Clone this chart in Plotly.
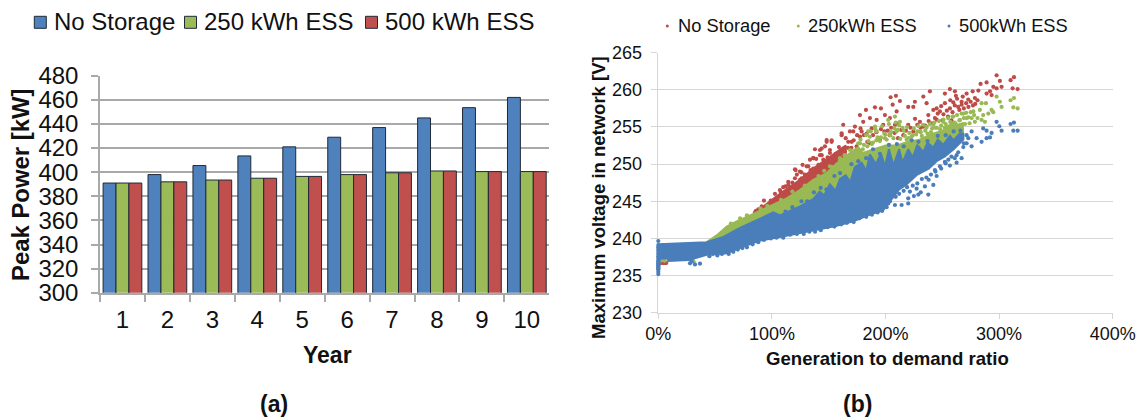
import plotly.graph_objects as go

W, H = 1147, 418
FONT = "Liberation Sans, Arial, sans-serif"

years = ["1", "2", "3", "4", "5", "6", "7", "8", "9", "10"]
peak_none = [391, 398, 405.5, 413.5, 421, 429, 437, 445, 453.5, 462]
peak_250 = [391, 392, 393.5, 395, 396.5, 398, 399.5, 401, 400.5, 400.5]
peak_500 = [391, 392, 393.5, 395, 396.5, 398, 399.5, 401, 400.5, 400.5]

red_x = [297.8,313.1,310.1,300.7,302.2,297.8,311.9,316.3,283.7,289,294.9,292,293.4,289,276.7,281.7,271.4,256.7,261.1,252.3,239.1,233.3,209.2,204.5,212.7,190.7,196,182.8,206.3,225.9,220,224.5,236.2,245,252.3,259.7,267,272.9,278.7,264,256.7,247.9,242.1,177.5,186.3,192.2,199.5,203.9,209.8,173.1,180.4,162.8,171.6,161.4,148.2,152.6,146.7,151.1,142.3,143.8,154,162.8,167.2,179,187.8,198,208.3,220,230.3,237.7,243.5,215.7,224.5,233.3,186.3,195.1,203.9,157,151.1,146.7,168.7,174.6,164.3,148.2,152.6,161.4,168.7,137.9,143.8,142.3,133.5,136.4,151.1,145.2,127,132,120.9,124.7,136.4,114.4,120.3,110,107.1,115.9,124.7,130.6,139.4,145.2,154,158.4,110,117.4,170.2,177.5,183.4,195.1,203.9,209.8,85.1,88.1,93,96.9,102.7,107.1,114.5,120.3,126.2,130.6,136.5,113,121.8,101.3,130.6,2,3.5,5,6,7,
         246,249,251,254,257,259,261,263,265,267,269,271,273,275,277,279,281,262,268,255,250,258,245,241,238,235,231,228,226,222,218,214,211,208,205,202,199,196,192,189,184,181,178,175,172,170,167,165,159,156,149,147,141,139,134,129,126,122,118,112,108,104,99,91,88,86]
red_v = [261.96,261.7,261.3,261.2,260.4,260.2,260.2,260.1,260.8,261,260.4,259.8,259.3,259.5,259.8,259.9,259.5,260.1,259.8,259.5,259.8,259.1,259.2,259,258.5,257.65,257.5,257.3,258,258.4,257.7,257.7,258.2,257.5,258.2,258.3,258.4,258.7,258.9,257.7,257.5,257.1,257.3,256.6,256.2,255.95,256.6,256.2,257.1,255.05,255.7,255.3,254.4,253.9,253.25,253,252.4,251.9,251.9,251.2,251,252.1,253,254.4,254.8,255.3,255.3,255.3,255.7,256.6,256.2,253.9,254.4,255.05,252.8,253.25,253.9,250.3,249.7,248.8,251,252.4,251.7,253,253.2,254.15,254.4,252,252.1,251.2,250.6,250.8,251.5,250.6,249.9,249.7,249.2,249,249.4,247.6,248.1,246.9,246.5,246.7,247.9,248.5,248.5,249.4,250.1,250.6,245.2,246.1,253,253.7,254.1,253.5,253.9,255.5,243.5,243.6,245.1,244.5,246,244.7,247.2,249.3,248.1,249.7,250.8,245.9,247,244.3,247.4,236.7,236.7,236.7,236.7,236.7,
         256.8,257.8,256.7,257.2,258.6,257,257.9,258.8,257.3,258,257.5,258.2,257.7,258.4,257.9,258.1,258.6,259.2,259.1,256.4,255.9,255.9,256,255.5,255.8,255.2,254.9,255.3,256.1,254.9,254.5,254.6,253.5,254.2,254.9,254.5,254.4,254.7,254.3,253.9,253,253.9,254.8,253.9,253.2,252.2,252.2,253.5,252.3,251.4,250.9,250.2,249.9,250.7,249.2,248.6,248.9,248.6,247.5,247,246.2,245.4,245.1,244.3,243.9,243.7]
red_band_x = [84,107,124.7,136.4,151.1,165,165,130,100]
red_band_v = [243.3,246,247.9,249.4,251,252.5,250,246.5,244]

green_x = [297.8,300.7,302.2,313.1,310.1,312.5,316.3,293.4,294.9,290.5,286,288.4,284.6,283.1,277.3,275.8,284.6,287.5,278.7,271.4,268.5,265.5,259.7,258.2,250.9,242.1,236.2,230.3,218.6,209.8,199.5,192.2,186.3,177.5,168.7,159.9,151.1,212.7,202.4,190.7,184.8,208.3,196.6,201,215.7,180.4,174.6,155.5,149.6,236.2,245,224.5,2,4,5.5,29.4,31,
           64,72,78,90,96,108,118,129,141,146,153,160,164,
           176,178,181,183,185,187,189,191,193,195,197,199,201,203,205,207,209,211,213,215,217,219,221,223,225,227,229,231,233,235,237,239,241,243,245,247,249,251,253,255,257,259,261,263,265,267,269,271,273,275,278,281,274,270,266,262,258,254,180,184,188,192,196,200,204,208,212,216,220,224,228,232,236,240,244,248,252,256,260]
green_v = [259.1,258.4,257.7,258.9,258.6,257.65,257.5,257.3,257,256.8,256.6,258.2,258.2,257.3,257.1,256.2,255.95,255.7,255.7,256.2,256.8,255.95,256.4,255.5,255.7,255.3,255.05,254.4,253.3,254.4,253.5,254.4,253.7,252.8,251.9,250.8,249.7,255.7,255.95,255.05,254.4,256.4,250.6,250.1,251.2,250.1,249.4,247.4,246.7,253,253.9,252.1,237,237.1,237,237,236.9,
           242,242.7,243.1,244,244.4,245.2,246.3,247.1,248.4,249.1,249.6,250.5,251.2,
           252.8,253.3,252.6,253.9,253.1,254.4,252.9,254.7,253.6,253.1,255.1,254.1,253.3,255.4,254.3,253.5,255.6,254.6,253.4,254.9,253.8,255,254.2,253.7,254.8,254,255.1,254.3,255.3,254.5,254.1,255.4,254.8,255.6,254.9,255.8,255.2,256,255.4,256.2,255.7,256.4,255.6,256.6,255.9,256.8,256.2,256.9,256.3,257,256.6,256.2,255.5,255.4,255.3,255.4,255.2,255,252,252.4,252.7,253.2,253.6,254,253.9,254.8,255.2,254.5,253.5,253.9,254.4,253.8,254.9,254.3,254.9,254.7,254.9,255.1,255.3]
green_band_x = [42.6,51.4,60.2,69,83.7,101.3,113,124.7,136.4,148.2,157,168.7,176,180,190,200,210,220,230,240,250,260,268,268.5,230,180,120,60,42.6]
green_band_v = [239.5,240.4,241.6,242.3,243.3,244.5,245.4,246.5,247.9,248.8,250.1,251.5,252.3,251.5,252,252.5,252.5,253,253.3,254,254.5,255,255.5,253.5,250,246,241,238.5,239.5]

blue_x = [297.8,300.2,302.2,313.1,310.1,312.5,316.3,289,286,293.4,292,289,284.6,280.2,275.8,272.9,268.5,267,262.6,255.3,256.7,245,243.5,237.7,234.7,227.4,228.9,220,220,214.2,208.3,202.4,221.5,242.1,247.9,252.3,271.4,262.6,271.4,275.8,27.9,32.3,36.7,29.4,0,0,0,0,0,0,0,0,0,0,0,0,0,0,0,0,0,0,0,
          45,48,52,56,62,66,70,74,78,83,88,93,99,104,110,116,122,128,133,138,143,149,155,161,166,172,177,183,188,193,197,201,204,209,212,216,206,210,214,219,224,228,232,236,240,225,231,238,244,249,253,258,264,269,266,261,
          112,118,126,131,137,143,148,155,160,164,170,176,183,189,195,203,210,216,223,229,237,246,253,260,266]
blue_v = [255.7,255.1,254.5,255.6,255.4,254.5,254.5,254.5,254.8,254.2,253.6,253.5,253,253.5,252.4,253.5,252.3,250.8,250.2,250.6,249.8,248.4,249.2,245.9,247,246.7,245.9,244.7,245.4,244.5,244.5,244.7,246.3,247.2,249.7,250.3,252.8,251.2,253.9,254.4,236.65,236.5,236.6,236.9,239.65,239.1,238.8,238.5,238.2,237.9,237.6,237.3,237,236.7,236.4,236.1,235.8,235.5,235.2,235.9,236.2,236.55,236.85,
          237.6,237.9,237.7,237.9,237.9,238.2,238.5,238.7,238.8,239.2,239.5,239.8,240,240.1,240.1,240.5,240.6,240.6,240.9,240.9,241.1,241.5,241.6,241.9,242.1,242.2,242.7,242.9,243.2,243.5,243.7,244.2,245,245.6,246,246.4,246.1,247,247.6,246.9,247.1,247.4,248,248.2,248.6,245.7,246.2,247.9,249,249.4,250.1,251,251.6,252.8,253.2,250.8,
          243.6,244.2,245,245,246.2,246.8,246.6,248.4,248.8,248.2,250,250.4,250.8,252,251.4,252.6,252.7,252.4,253.2,253,253.1,253.8,253.9,254.4,254.5]
blue_band_x = [0,0.6,1.2,8,9,27,42.6,60.2,74.9,89.5,107.1,130.6,142.3,157,171.6,186.3,198,205,212,218,228,238,245,252,260,268.5,268.5,265.5,260,256.7,250.9,246,242.1,237,233.3,228,224,220,215,212,207,203,199.5,196,191.5,186.3,183,179,173,169,165,160,156,151,146,142,136.4,124.7,107.1,101.3,71.9,57.3,42.6,0]
blue_band_v = [235.2,235.5,237.3,237.3,236.95,237.1,237.8,238,238.9,239.7,240.2,240.9,241.2,241.7,242.3,243.2,243.8,245.2,246.6,247.2,248.6,249.4,250.4,251,252,253.3,254.1,254.15,253.2,253.8,252.6,253.3,252.2,252.9,251.6,252.6,250.9,252,250.2,252,249.8,252,249.7,251.4,250,251.3,249.1,250.2,249.6,247.6,248.5,248,246.4,247.3,245.8,246.3,245.3,244.3,243.1,243.5,241.4,240.2,239.5,239.2]

BLUE, GREEN, RED = "#4F81BD", "#9BBB59", "#C0504D"
S_BLUE, S_GREEN, S_RED = "#4A7EBB", "#98B954", "#BE4B48"
BAR_EDGE = "#1F2A38"
GRID_A = "#A9A9A9"
GRID_B = "#D6D6D6"


def fx(p):
    return p / W


def fy(p):
    return 1 - p / H


fig = go.Figure()
for name, vals, col in [("No Storage", peak_none, BLUE), ("250 kWh ESS", peak_250, GREEN), ("500 kWh ESS", peak_500, RED)]:
    fig.add_trace(go.Bar(x=years, y=vals, name=name, marker=dict(color=col, line=dict(color=BAR_EDGE, width=1)),
                         xaxis="x", yaxis="y", showlegend=False))

for name, bx, bv, sx, sv, col in [
    ("No Storage", red_band_x, red_band_v, red_x, red_v, S_RED),
    ("250kWh ESS", green_band_x, green_band_v, green_x, green_v, S_GREEN),
    ("500kWh ESS", blue_band_x, blue_band_v, blue_x, blue_v, S_BLUE),
]:
    fig.add_trace(go.Scatter(x=bx, y=bv, mode="lines", fill="toself", fillcolor=col, line=dict(color=col, width=2),
                             xaxis="x2", yaxis="y2", showlegend=False, hoverinfo="skip"))
    fig.add_trace(go.Scatter(x=sx, y=sv, mode="markers", name=name, marker=dict(color=col, size=4.2), cliponaxis=False,
                             xaxis="x2", yaxis="y2", showlegend=False))

annotations = []


def text(s, x, y, size, bold=False, anchor="center", angle=0):
    annotations.append(dict(text=f"<b>{s}</b>" if bold else s, x=fx(x), y=fy(y), xref="paper", yref="paper",
                            xanchor=anchor, yanchor="middle", showarrow=False, textangle=angle,
                            font=dict(family=FONT, size=size, color="#111111")))


shapes = []
for x0, col, label, tx in [(34.3, BLUE, "No Storage", 52), (184.5, GREEN, "250 kWh ESS", 202), (365.5, RED, "500 kWh ESS", 383)]:
    shapes.append(dict(type="rect", xref="paper", yref="paper", x0=fx(x0), x1=fx(x0 + 12), y0=fy(28.3), y1=fy(16.3),
                       fillcolor=col, line=dict(color=BAR_EDGE, width=1)))
    text(label, tx, 22, 24, anchor="left")
for cx, col, label, tx in [(667.3, S_RED, "No Storage", 676), (798.3, S_GREEN, "250kWh ESS", 806.5), (949, S_BLUE, "500kWh ESS", 957)]:
    shapes.append(dict(type="circle", xref="paper", yref="paper", x0=fx(cx - 1.5), x1=fx(cx + 1.5), y0=fy(27.5), y1=fy(24.5),
                       fillcolor=col, line=dict(width=0)))
    text(label, tx, 26, 18.3, anchor="left")

text("Peak Power [kW]", 21, 185, 23.9, bold=True, angle=-90)
text("Year", 327, 355, 23, bold=True)
text("Maximum voltage in network [V]", 599, 198, 18.5, bold=True, angle=-90)
text("Generation to demand ratio", 887, 358, 18.6, bold=True)
text("(a)", 274, 404, 23, bold=True)
text("(b)", 857, 404, 23, bold=True)

fig.update_layout(
    width=W, height=H, margin=dict(l=0, r=0, t=0, b=0, autoexpand=False), paper_bgcolor="white", plot_bgcolor="white",
    barmode="group", bargap=0.138, bargroupgap=0, showlegend=False,
    font=dict(family=FONT, color="#111111"),
    annotations=annotations, shapes=shapes,
    xaxis=dict(domain=[fx(100), fx(549.3)], type="category", range=[-0.5, 9.5], tickson="boundaries", ticks="outside",
               ticklen=7, tickcolor=GRID_A, tickwidth=1.5, showline=True, linecolor=GRID_A, linewidth=1.5, showgrid=False,
               tickfont=dict(size=24, color="#111111"), ticklabelstandoff=5, anchor="y"),
    yaxis=dict(domain=[fy(292.8), fy(75.7)], range=[300, 480], tick0=300, dtick=20, ticks="outside", ticklen=7,
               tickcolor=GRID_A, tickwidth=1.5, showline=True, linecolor=GRID_A, linewidth=1.5, gridcolor=GRID_A, gridwidth=1.5,
               zeroline=False, tickfont=dict(size=24, color="#111111"), ticklabelstandoff=8, anchor="x"),
    xaxis2=dict(domain=[fx(658.3), fx(1112.7)], range=[0, 400], tick0=0, dtick=100, ticksuffix="%", ticks="outside", ticklen=5,
                tickcolor=GRID_B, showline=True, linecolor=GRID_B, linewidth=1.2, showgrid=False, layer="below traces",
                tickfont=dict(size=18, color="#111111"), anchor="y2"),
    yaxis2=dict(domain=[fy(312.7), fy(52.7)], range=[230, 265], tick0=230, dtick=5, ticks="outside", ticklen=6.5,
                tickcolor=GRID_B, showline=True, linecolor=GRID_B, linewidth=1.2, gridcolor=GRID_B, gridwidth=1.2, layer="below traces",
                zeroline=False, tickfont=dict(size=18, color="#111111"), ticklabelstandoff=5, anchor="x2"),
)

fig.write_html("out.html", post_script="document.body.style.margin='0';", config={"displayModeBar": False})
